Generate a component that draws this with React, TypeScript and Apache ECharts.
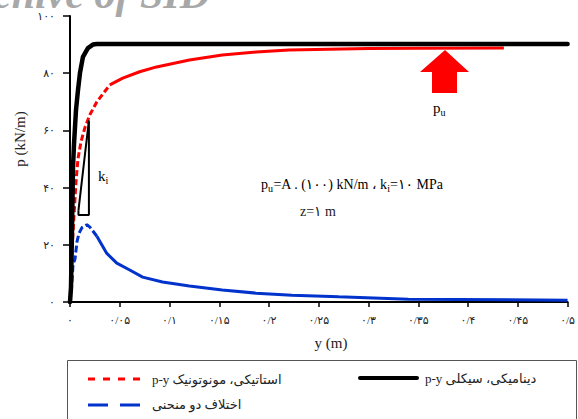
import React, { useEffect, useRef } from "react";
import * as echarts from "echarts";

// x = lateral displacement y (m), value = p (kN/m)
const dynamicCyclic: [number, number][] = [
  [0, 0], [0.001, 5], [0.002, 25], [0.003, 47], [0.004, 55], [0.006, 67], [0.008, 74],
  [0.010, 80], [0.013, 85.7], [0.018, 88.8], [0.023, 90], [0.027, 90.2], [0.5, 90.2],
];
const staticMonotonic: [number, number][] = [
  [0, 0], [0.002, 18], [0.004, 30], [0.006, 42], [0.008, 50], [0.011, 56], [0.015, 61],
  [0.02, 65.5], [0.027, 70], [0.04, 75.9], [0.053, 78.3], [0.07, 80.5], [0.087, 82.2],
  [0.12, 84.6], [0.153, 86.4], [0.187, 87.4], [0.22, 88.1], [0.26, 88.4], [0.3, 88.6],
  [0.35, 88.7], [0.436, 88.8],
];
const difference: [number, number][] = [
  [0, 0], [0.002, 7], [0.003, 13], [0.005, 15], [0.007, 21], [0.009, 24], [0.012, 26],
  [0.017, 27], [0.02, 26.2], [0.027, 23], [0.037, 17], [0.047, 13.6], [0.06, 11.2],
  [0.073, 8.7], [0.093, 7], [0.12, 5.6], [0.153, 4.2], [0.187, 3.1], [0.223, 2.4],
  [0.27, 1.8], [0.34, 1.0], [0.5, 0.6],
];
// k_i slope marker
const kiMarker: [number, number][] = [
  [0.0085, 32], [0.019, 63.5], [0.019, 30.4], [0.0085, 30.4], [0.0085, 32],
];

const X_MIN = 0, X_MAX = 0.5, X_STEP = 0.05;
const Y_MIN = 0, Y_MAX = 100, Y_STEP = 20;

const FA = "۰۱۲۳۴۵۶۷۸۹";
const toFa = (s: string) => s.replace(/[0-9]/g, (d) => FA[+d]).replace(".", "/");

const SERIF = "'Liberation Serif', 'DejaVu Serif', 'DejaVu Sans', serif";

export default function App() {
  const ref = useRef<HTMLDivElement>(null);
  useEffect(() => {
    if (!ref.current) return;
    const chart = echarts.init(ref.current, null, { renderer: "svg" });
    const redDash = staticMonotonic.filter((p) => p[0] <= 0.04);
    const redSolid = staticMonotonic.filter((p) => p[0] >= 0.04);
    const blueDash = difference.filter((p) => p[0] <= 0.027);
    const blueSolid = difference.filter((p) => p[0] >= 0.027);
    const sub = { fontSize: 10, fontFamily: SERIF, color: "#222", padding: [9, 0, 0, 0] };
    const main = { fontSize: 15, fontFamily: SERIF, color: "#222" };
    chart.setOption({
      animation: false,
      backgroundColor: "#fff",
      grid: { left: 70, right: 9, top: 16, bottom: 117 },
      xAxis: {
        type: "value",
        min: X_MIN,
        max: X_MAX,
        interval: X_STEP,
        splitLine: { show: false },
        axisLine: { lineStyle: { color: "#000", width: 2 } },
        axisTick: { inside: false, length: 5, lineStyle: { color: "#000", width: 1.5 } },
        axisLabel: {
          margin: 12,
          fontSize: 11,
          color: "#222",
          fontFamily: SERIF,
          formatter: (v: number) => toFa(String(+v.toFixed(2))),
        },
      },
      yAxis: {
        type: "value",
        min: Y_MIN,
        max: Y_MAX,
        interval: Y_STEP,
        splitLine: { show: false },
        axisLine: { lineStyle: { color: "#000", width: 2 } },
        axisTick: { inside: false, length: 7, lineStyle: { color: "#000", width: 1.5 } },
        axisLabel: {
          margin: 15,
          fontSize: 11,
          color: "#222",
          fontFamily: SERIF,
          formatter: (v: number) => toFa(String(v)),
        },
      },
      series: [
        {
          type: "line", data: blueDash, showSymbol: false,
          lineStyle: { color: "#0033cc", width: 3, type: [7, 3] },
        },
        {
          type: "line", data: blueSolid, showSymbol: false,
          lineStyle: { color: "#0033cc", width: 3 },
        },
        {
          type: "line", data: redDash, showSymbol: false,
          lineStyle: { color: "#ff0000", width: 3, type: [6, 3] },
        },
        {
          type: "line", data: redSolid, showSymbol: false,
          lineStyle: { color: "#ff0000", width: 3 },
        },
        {
          type: "line", data: dynamicCyclic, showSymbol: false,
          lineStyle: { color: "#000", width: 4.5, join: "round", cap: "round" },
        },
        {
          type: "line", data: kiMarker, showSymbol: false,
          lineStyle: { color: "#000", width: 2 },
        },
      ],
      graphic: [
        {
          type: "text", x: 210, y: 15,
          style: {
            text: "Archive of SID", fontSize: 42, fontStyle: "italic", fontWeight: "bold",
            fontFamily: SERIF, fill: "#a8a8a8", align: "right", verticalAlign: "bottom",
          },
        },
        {
          type: "text", x: 20, y: 139, rotation: Math.PI / 2,
          style: {
            text: "p (kN/m)", fontSize: 15, fontFamily: SERIF, fill: "#222",
            align: "center", verticalAlign: "middle",
          },
        },
        {
          type: "text", x: 331, y: 343,
          style: {
            text: "y (m)", fontSize: 15, fontFamily: SERIF, fill: "#222",
            align: "center", verticalAlign: "middle",
          },
        },
        {
          type: "polygon",
          shape: { points: [[445, 50], [469, 72], [457, 72], [457, 93], [432, 93], [432, 72], [420, 72]] },
          style: { fill: "#ff0000" },
        },
        {
          type: "text", x: 433, y: 108,
          style: {
            text: "{a|p}{b|u}", align: "left", verticalAlign: "middle",
            rich: { a: main, b: sub },
          },
        },
        {
          type: "text", x: 98, y: 176,
          style: {
            text: "{a|k}{b|i}", align: "left", verticalAlign: "middle",
            rich: { a: main, b: sub },
          },
        },
        {
          type: "text", x: 352, y: 184,
          style: {
            text: "{a|p}{b|u}{a|=A . (۱۰۰) kN/m ، k}{b|i}{a|=۱۰ MPa}",
            align: "center", verticalAlign: "middle",
            rich: { a: { ...main, fontSize: 14 }, b: sub },
          },
        },
        {
          type: "text", x: 318, y: 211,
          style: {
            text: "z=۱ m", fontSize: 14, fontFamily: SERIF, fill: "#222",
            align: "center", verticalAlign: "middle",
          },
        },
        {
          type: "rect", shape: { x: 67.5, y: 360.5, width: 509, height: 80 },
          style: { fill: "none", stroke: "#555", lineWidth: 1 },
        },
        {
          type: "line", shape: { x1: 88, y1: 379, x2: 142, y2: 379 },
          style: { stroke: "#ff0000", lineWidth: 3, lineDash: [7, 8] },
        },
        {
          type: "text", x: 152, y: 379,
          style: {
            text: "p-y استاتیکی، مونوتونیک", fontSize: 13, fontFamily: SERIF, fill: "#222",
            align: "left", verticalAlign: "middle",
          },
        },
        {
          type: "line", shape: { x1: 360, y1: 378, x2: 417, y2: 378 },
          style: { stroke: "#000", lineWidth: 4, lineCap: "round" },
        },
        {
          type: "text", x: 425, y: 378,
          style: {
            text: "p-y دینامیکی، سیکلی", fontSize: 13, fontFamily: SERIF, fill: "#222",
            align: "left", verticalAlign: "middle",
          },
        },
        {
          type: "line", shape: { x1: 88, y1: 405, x2: 140, y2: 405 },
          style: { stroke: "#0033cc", lineWidth: 3, lineDash: [20, 12] },
        },
        {
          type: "text", x: 152, y: 404,
          style: {
            text: "اختلاف دو منحنی", fontSize: 13, fontFamily: SERIF, fill: "#222",
            align: "left", verticalAlign: "middle",
          },
        },
      ],
    });
    return () => chart.dispose();
  }, []);
  return (
    <div
      ref={ref}
      style={{ position: "fixed", left: 0, top: 0, width: 578, height: 419, background: "#fff" }}
    />
  );
}
